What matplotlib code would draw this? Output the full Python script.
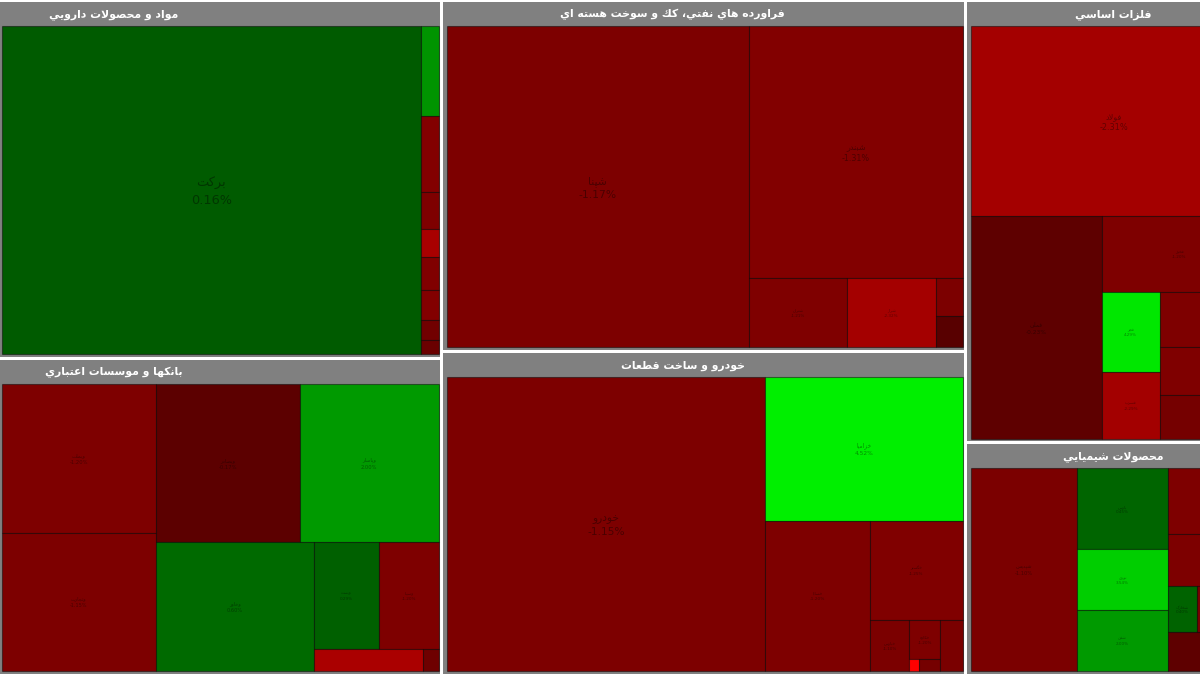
import matplotlib
matplotlib.use("Agg")
import matplotlib.pyplot as plt
from matplotlib.patches import Rectangle
from matplotlib.colors import LinearSegmentedColormap, Normalize
import numpy as np

# Nombres de los grupos (industrias)
sector_names = ["مواد و محصولات دارويي",
                "بانكها و موسسات اعتباري",
                "فراورده هاي نفتي، كك و سوخت هسته اي",
                "خودرو و ساخت قطعات",
                "فلزات اساسي",
                "محصولات شيميايي"]

# mercado de cada grupo: simbolo, valor, cambio (%), agrupacion interna
s1_symbols = ["برکت", "دتماد", "دجابر", "دسبحا", "دفارا", "دلر", "دعبید", "داسوه", "دکیمی"]
s1_values = [151.9, 1.79, 1.51, 0.74, 0.56, 0.64, 0.60, 0.40, 0.28]
s1_changes = [0.16, 1.83, -1.29, -1.2, -2.43, -1.25, -1.3, -0.8, -0.6]
s1_groups = [0, [1, 2, 3, 4, 5, 6, [7, 8]]]

s2_symbols = ["وبملت", "وتجارت", "وبصادر", "وپاسار", "وخاور", "وپست", "وسینا", "ونوین", "وکار"]
s2_values = [25.6, 23.8, 25.6, 24.7, 22.8, 7.8, 7.1, 2.66, 0.39]
s2_changes = [-1.2, -1.15, -0.17, 2.0, 0.6, 0.29, -1.2, -2.5, -0.7]
s2_groups = [[0, 1], [[2, 3], [4, [[5, 6], [7, 8]]]]]

s3_symbols = ["شپنا", "شبندر", "شتران", "شراز", "شبریز", "شپاس"]
s3_values = [107.4, 59.7, 7.5, 6.8, 1.12, 0.95]
s3_changes = [-1.17, -1.31, -1.21, -2.32, -1.12, -0.06]
s3_groups = [0, [1, [2, 3, [4, 5]]]]

s4_symbols = ["خودرو", "خزامیا", "خساپا", "خگستر", "خپارس", "خکاوه", "ختوقا", "خمحرکه", "خاور"]
s4_values = [104.4, 31.7, 17.5, 10.2, 2.26, 1.34, 0.12, 0.28, 1.33]
s4_changes = [-1.15, 4.52, -1.2, -1.25, -1.1, -1.2, -5.0, -0.9, -1.05]
s4_groups = [0, [1, [2, [3, [4, [5, [6, 7]], 8]]]]]

s5_symbols = ["فولاد", "فملی", "فخوز", "فجر", "فسرب", "کاوه", "فولاژ", "فسپا"]
s5_values = [59.6, 32.0, 13.1, 5.05, 4.31, 5.77, 5.23, 4.65]
s5_changes = [-2.31, -0.23, -1.2, 4.29, -2.29, -1.18, -1.22, -0.92]
s5_groups = [0, [1, [2, [[3, 4], [5, 6, 7]]]]]

s6_symbols = ["شپدیس", "پارس", "نوری", "شفن", "جم", "شیراز", "شخارک", "شکلر", "شاراک"]
s6_values = [25.3, 8.59, 6.47, 6.42, 6.82, 5.45, 1.60, 3.32, 4.04]
s6_changes = [-1.1, 0.45, 3.54, 2.0, -1.2, -1.15, 0.4, -1.0, -0.23]
s6_groups = [0, [1, 2, 3], [4, 5, [6, 7], 8]]

sectores = [(s1_symbols, s1_values, s1_changes, s1_groups),
            (s2_symbols, s2_values, s2_changes, s2_groups),
            (s3_symbols, s3_values, s3_changes, s3_groups),
            (s4_symbols, s4_values, s4_changes, s4_groups),
            (s5_symbols, s5_values, s5_changes, s5_groups),
            (s6_symbols, s6_values, s6_changes, s6_groups)]

# ---- formas de las letras (el texto persa se arma a mano) ----
FORMS = {
    "\u0622": ("\uFE81", "\uFE82", None, None),
    "\u0627": ("\uFE8D", "\uFE8E", None, None),
    "\u0628": ("\uFE8F", "\uFE90", "\uFE91", "\uFE92"),
    "\u0629": ("\uFE93", "\uFE94", None, None),
    "\u062A": ("\uFE95", "\uFE96", "\uFE97", "\uFE98"),
    "\u062B": ("\uFE99", "\uFE9A", "\uFE9B", "\uFE9C"),
    "\u062C": ("\uFE9D", "\uFE9E", "\uFE9F", "\uFEA0"),
    "\u062D": ("\uFEA1", "\uFEA2", "\uFEA3", "\uFEA4"),
    "\u062E": ("\uFEA5", "\uFEA6", "\uFEA7", "\uFEA8"),
    "\u062F": ("\uFEA9", "\uFEAA", None, None),
    "\u0630": ("\uFEAB", "\uFEAC", None, None),
    "\u0631": ("\uFEAD", "\uFEAE", None, None),
    "\u0632": ("\uFEAF", "\uFEB0", None, None),
    "\u0633": ("\uFEB1", "\uFEB2", "\uFEB3", "\uFEB4"),
    "\u0634": ("\uFEB5", "\uFEB6", "\uFEB7", "\uFEB8"),
    "\u0635": ("\uFEB9", "\uFEBA", "\uFEBB", "\uFEBC"),
    "\u0636": ("\uFEBD", "\uFEBE", "\uFEBF", "\uFEC0"),
    "\u0637": ("\uFEC1", "\uFEC2", "\uFEC3", "\uFEC4"),
    "\u0638": ("\uFEC5", "\uFEC6", "\uFEC7", "\uFEC8"),
    "\u0639": ("\uFEC9", "\uFECA", "\uFECB", "\uFECC"),
    "\u063A": ("\uFECD", "\uFECE", "\uFECF", "\uFED0"),
    "\u0641": ("\uFED1", "\uFED2", "\uFED3", "\uFED4"),
    "\u0642": ("\uFED5", "\uFED6", "\uFED7", "\uFED8"),
    "\u0643": ("\uFED9", "\uFEDA", "\uFEDB", "\uFEDC"),
    "\u0644": ("\uFEDD", "\uFEDE", "\uFEDF", "\uFEE0"),
    "\u0645": ("\uFEE1", "\uFEE2", "\uFEE3", "\uFEE4"),
    "\u0646": ("\uFEE5", "\uFEE6", "\uFEE7", "\uFEE8"),
    "\u0647": ("\uFEE9", "\uFEEA", "\uFEEB", "\uFEEC"),
    "\u0648": ("\uFEED", "\uFEEE", None, None),
    "\u0649": ("\uFEEF", "\uFEF0", None, None),
    "\u064A": ("\uFEF1", "\uFEF2", "\uFEF3", "\uFEF4"),
    "\u067E": ("\uFB56", "\uFB57", "\uFB58", "\uFB59"),
    "\u0686": ("\uFB7A", "\uFB7B", "\uFB7C", "\uFB7D"),
    "\u0698": ("\uFB8A", "\uFB8B", None, None),
    "\u06A9": ("\uFB8E", "\uFB8F", "\uFB90", "\uFB91"),
    "\u06AF": ("\uFB92", "\uFB93", "\uFB94", "\uFB95"),
    "\u06CC": ("\uFBFC", "\uFBFD", "\uFBFE", "\uFBFF"),
}
LAM_ALEF = {"\u0627": ("\uFEFB", "\uFEFC"), "\u0622": ("\uFEF5", "\uFEF6")}


def dual(c):
    return c in FORMS and FORMS[c][2] is not None


def shape(text):
    res = []
    i = 0
    n = len(text)
    while i < n:
        c = text[i]
        if c not in FORMS:
            res.append(c)
            i += 1
            continue
        link_prev = i > 0 and dual(text[i - 1])
        if c == "\u0644" and i + 1 < n and text[i + 1] in LAM_ALEF:
            lig = LAM_ALEF[text[i + 1]]
            res.append(lig[1] if link_prev else lig[0])
            i += 2
            continue
        link_next = dual(c) and i + 1 < n and text[i + 1] in FORMS
        f = FORMS[c]
        if link_prev and link_next:
            res.append(f[3])
        elif link_prev:
            res.append(f[1])
        elif link_next:
            res.append(f[2])
        else:
            res.append(f[0])
        i += 1
    return "".join(reversed(res))


# ---- algoritmos de ubicacion ----
def worst(row, side):
    s = sum(row)
    return max(max(side * side * r / (s * s), s * s / (side * side * r)) for r in row)


def squarify(vals, x, y, w, h):
    total = float(sum(vals))
    areas = [v * w * h / total for v in vals]
    rects = []
    i = 0
    while i < len(areas):
        side = min(w, h)
        row = [areas[i]]
        i += 1
        while i < len(areas) and worst(row + [areas[i]], side) <= worst(row, side):
            row.append(areas[i])
            i += 1
        s = sum(row)
        if w >= h:
            cw = s / h
            yy = y
            for a in row:
                rects.append((x, yy, cw, a / cw))
                yy += a / cw
            x += cw
            w -= cw
        else:
            rh = s / w
            xx = x
            for a in row:
                rects.append((xx, y, a / rh, rh))
                xx += a / rh
            y += rh
            h -= rh
    return rects


def total(node, vals):
    if isinstance(node, int):
        return vals[node]
    return sum(total(n, vals) for n in node)


def slice_layout(node, vals, x, y, w, h, out):
    if isinstance(node, int):
        out[node] = (x, y, w, h)
        return
    sums = [total(n, vals) for n in node]
    s = sum(sums)
    for n, v in zip(node, sums):
        if w >= h:
            dw = w * v / s
            slice_layout(n, vals, x, y, dw, h, out)
            x += dw
        else:
            dh = h * v / s
            slice_layout(n, vals, x, y, w, dh, out)
            y += dh


# colores: rojo (baja) - oscuro (0) - verde (sube)
cmap = LinearSegmentedColormap.from_list(
    "bolsa", [(0.0, "#ff0000"), (0.5, "#560000"), (0.5, "#005600"), (1.0, "#00ff00")], N=1024)
norm = Normalize(-5, 5)

GAP = 1.5
HEADER = 24
FRAME_L, FRAME_R, FRAME_B = 3.5, 1.5, 2.5
HEADER_POS = [0.26, 0.26, 0.44, 0.46, 0.5, 0.5]   # posicion del titulo en la barra
VISIBLE_X = 1200

fig = plt.figure(figsize=(12, 6.75), dpi=100)
ax = fig.add_axes([0, 0, 1, 1])
ax.set_xlim(0, VISIBLE_X)
ax.set_ylim(675, 0)
ax.axis("off")

# el mapa es mas ancho que la captura (se corta a la derecha)
totales = [sum(s[1]) for s in sectores]
rects = squarify(totales, -3, 0.5, 1263, 674.5)

for k, (sx, sy, sw, sh) in enumerate(rects):
    symbols, values, changes, groups = sectores[k]
    x0, y0, w0, h0 = sx + GAP, sy + GAP, sw - 2 * GAP, sh - 2 * GAP
    ax.add_patch(Rectangle((x0, y0), w0, h0, facecolor="#808080", edgecolor="none"))
    ax.text(x0 + w0 * HEADER_POS[k], y0 + HEADER / 2 + 0.5, shape(sector_names[k]),
            color="white", fontsize=7.8, fontweight="bold", ha="center", va="center",
            family=["DejaVu Sans"])

    cx, cy = x0 + FRAME_L, y0 + HEADER
    cw, ch = w0 - FRAME_L - FRAME_R, h0 - HEADER - FRAME_B
    celdas = {}
    slice_layout(groups, values, cx, cy, cw, ch, celdas)
    for i in range(len(values)):
        x, y, w, h = celdas[i]
        ax.add_patch(Rectangle((x, y), w, h, facecolor=cmap(norm(changes[i])),
                               edgecolor=(0, 0, 0, 0.45), linewidth=0.8))
        if w > 28 and h > 22:
            fs = float(np.clip(np.sqrt(w * h) / 40, 3, 10))
            half = 6 * fs * 0.6 * 100 / 72 / 2
            if x + w / 2 + half > VISIBLE_X - 1:
                continue   # etiqueta fuera de la captura
            ax.text(x + w / 2, y + h / 2 - fs * 0.7, shape(symbols[i]), fontsize=fs,
                    ha="center", va="center", color=(0, 0, 0, 0.4))
            ax.text(x + w / 2, y + h / 2 + fs * 1.1, "%.2f%%" % changes[i], fontsize=fs,
                    ha="center", va="center", color=(0, 0, 0, 0.4))

fig.savefig("out.png", dpi=100)
